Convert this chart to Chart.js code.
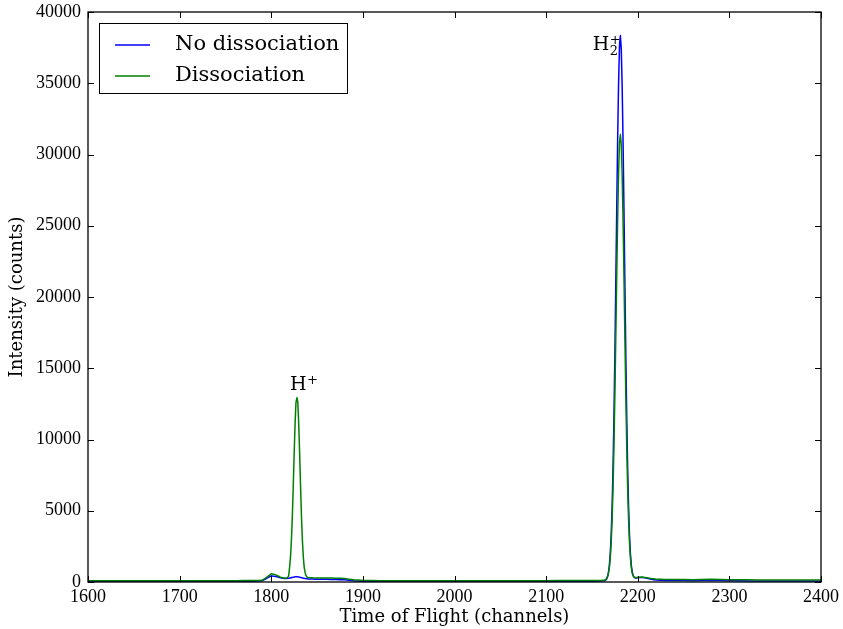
<!DOCTYPE html>
<html><head><meta charset="utf-8">
<script src="https://cdn.jsdelivr.net/npm/chart.js@4.4.0/dist/chart.umd.min.js"></script>
<style>html,body{margin:0;padding:0;background:#fff}canvas{display:block}</style>
</head><body>
<canvas id="c" width="843" height="629"></canvas>
<script>
const seriesLabels = ['No dissociation', 'Dissociation'];
const channels = [
  1600,1620,1640,1660,1680,1700,1720,1740,1760,1780,
  1790,1795,1800,1805,1810,1815,
  1816,1817,1818,1819,1820,1821,1822,1823,1824,1825,1826,1827,1828,1829,1830,1831,1832,1833,1834,1835,1836,1837,1838,1839,1840,
  1845,1850,1860,1870,1880,1890,1900,
  1920,1940,1960,1980,2000,2020,2040,2060,2080,2100,2120,2140,
  2150,2155,2160,2163,
  2164,2165,2166,2167,2168,2169,2170,2171,2172,2173,2174,2175,2176,2177,2178,2179,2180,2181,2182,2183,2184,2185,2186,2187,2188,2189,2190,2191,2192,2193,2194,2195,2196,2197,2198,2199,2200,
  2205,2210,2215,2220,2230,2240,2260,2280,2300,2320,2340,2360,2380,2400
];
const noDissociation = [
  50,55,48,52,50,47,53,50,55,60,
  90,260,430,390,290,240,
  245,250,255,265,275,285,300,320,335,350,360,365,365,360,350,335,320,300,285,270,255,245,235,225,215,
  205,195,185,175,150,85,60,
  55,50,52,48,50,53,50,47,52,50,55,58,
  60,62,70,90,
  100,130,210,360,650,1150,1990,3300,5240,7950,11480,15800,20730,25860,30740,34760,37430,38350,37430,34760,30740,25860,20730,15800,11480,7950,5240,3300,1990,1150,700,450,330,290,280,285,295,
  320,270,190,140,110,100,95,110,85,75,70,65,65,60
];
const dissociation = [
  85,90,80,88,92,85,90,87,95,100,
  120,320,580,500,340,260,
  270,290,330,440,1010,1750,2920,4590,6670,8970,11090,12600,12950,12600,11090,8970,6670,4590,2920,1750,1010,640,440,360,320,
  290,280,285,270,240,160,110,
  95,90,92,88,90,93,90,87,92,95,98,100,
  100,105,110,125,
  135,170,250,380,600,1000,1680,2760,4340,6570,9460,13000,17060,21270,25250,28550,30740,31400,30740,28550,25250,21270,17060,13000,9460,6570,4340,2760,1680,1000,620,430,350,320,310,315,325,
  350,300,240,200,180,170,165,190,160,150,145,140,140,135
];
const xRange = [1600, 2400];
const yRange = [0, 40000];
const xStep = 100;
const yStep = 5000;
const peakLabels = [
  {base: 'H', sub: '', sup: '+', x: 1820.5, y: 13470},
  {base: 'H', sub: '2', sup: '+', x: 2150.8, y: 37330}
];

const BLUE = '#0000ff', GREEN = '#008000';
const toPts = vals => channels.map((c, i) => ({x: c, y: vals[i]}));

const framePlugin = {
  id: 'frame',
  afterDatasetsDraw(chart) {
    const {ctx, chartArea: a, scales} = chart;
    ctx.save();
    ctx.strokeStyle = '#000';
    ctx.lineWidth = 1;
    const tl = 6;
    ctx.beginPath();
    scales.x.ticks.forEach(t => {
      const px = Math.round(scales.x.getPixelForValue(t.value)) + 0.5;
      ctx.moveTo(px, a.bottom); ctx.lineTo(px, a.bottom - tl);
      ctx.moveTo(px, a.top); ctx.lineTo(px, a.top + tl);
    });
    scales.y.ticks.forEach(t => {
      const py = Math.round(scales.y.getPixelForValue(t.value)) + 0.5;
      ctx.moveTo(a.left, py); ctx.lineTo(a.left + tl, py);
      ctx.moveTo(a.right, py); ctx.lineTo(a.right - tl, py);
    });
    ctx.stroke();
    ctx.lineWidth = 1.3;
    ctx.strokeRect(a.left, a.top, a.right - a.left, a.bottom - a.top);

    // peak annotations
    ctx.fillStyle = '#000';
    ctx.textBaseline = 'alphabetic';
    ctx.textAlign = 'left';
    peakLabels.forEach(p => {
      const px = scales.x.getPixelForValue(p.x);
      const py = scales.y.getPixelForValue(p.y);
      ctx.font = '19px "DejaVu Serif"';
      ctx.fillText(p.base, px, py);
      const w = ctx.measureText(p.base).width;
      ctx.font = '13px "DejaVu Serif"';
      if (p.sup) ctx.fillText(p.sup, px + w + 0.5, py - 6);
      if (p.sub) ctx.fillText(p.sub, px + w + 0.5, py + 5);
    });

    // legend
    const lx = a.left + 11, ly = a.top + 11, lw = 248, lh = 70;
    ctx.fillStyle = '#fff';
    ctx.fillRect(lx, ly, lw, lh);
    ctx.lineWidth = 1;
    ctx.strokeStyle = '#000';
    ctx.strokeRect(lx + 0.5, ly + 0.5, lw, lh);
    const rows = [ly + 22, ly + 53];
    chart.data.datasets.forEach((ds, i) => {
      ctx.strokeStyle = ds.borderColor;
      ctx.lineWidth = 1.5;
      ctx.beginPath();
      ctx.moveTo(lx + 16, rows[i]); ctx.lineTo(lx + 51, rows[i]);
      ctx.stroke();
      ctx.fillStyle = '#000';
      ctx.font = '21px "DejaVu Serif"';
      ctx.textBaseline = 'middle';
      ctx.fillText(ds.label, lx + 76, rows[i]);
    });
    ctx.restore();
  }
};

new Chart(document.getElementById('c'), {
  type: 'line',
  data: {
    datasets: [
      {label: seriesLabels[0], data: toPts(noDissociation), borderColor: BLUE, borderWidth: 1.5, pointRadius: 0, tension: 0.001, fill: false, order: 2},
      {label: seriesLabels[1], data: toPts(dissociation), borderColor: GREEN, borderWidth: 1.5, pointRadius: 0, tension: 0.001, fill: false, order: 1}
    ]
  },
  options: {
    responsive: false,
    animation: false,
    devicePixelRatio: 1,
    layout: {padding: {top: 12, right: 22, left: 0, bottom: 0}},
    plugins: {legend: {display: false}, tooltip: {enabled: false}},
    scales: {
      x: {
        type: 'linear', min: xRange[0], max: xRange[1],
        grid: {display: false, drawTicks: false, tickLength: 0}, border: {display: false},
        ticks: {stepSize: xStep, padding: 4, color: '#000', font: {family: '"Liberation Serif"', size: 18}, maxRotation: 0, callback: v => String(v)},
        title: {display: true, text: 'Time of Flight (channels)', color: '#000', font: {family: '"DejaVu Serif"', size: 18, lineHeight: 1.2}, padding: {top: 0, bottom: 1}},
        afterFit: s => { s.height = 47; s.paddingLeft = 0; s.paddingRight = 0; }
      },
      y: {
        type: 'linear', min: yRange[0], max: yRange[1],
        grid: {display: false, drawTicks: false, tickLength: 0}, border: {display: false},
        ticks: {stepSize: yStep, padding: 7, color: '#000', font: {family: '"Liberation Serif"', size: 18}, callback: v => String(v)},
        title: {display: true, text: 'Intensity (counts)', color: '#000', font: {family: '"DejaVu Serif"', size: 18, lineHeight: 1.2}, padding: {top: 7, bottom: 0}},
        afterFit: s => { s.width = 88; s.paddingTop = 0; s.paddingBottom = 0; }
      }
    }
  },
  plugins: [framePlugin]
});
</script>
</body></html>
